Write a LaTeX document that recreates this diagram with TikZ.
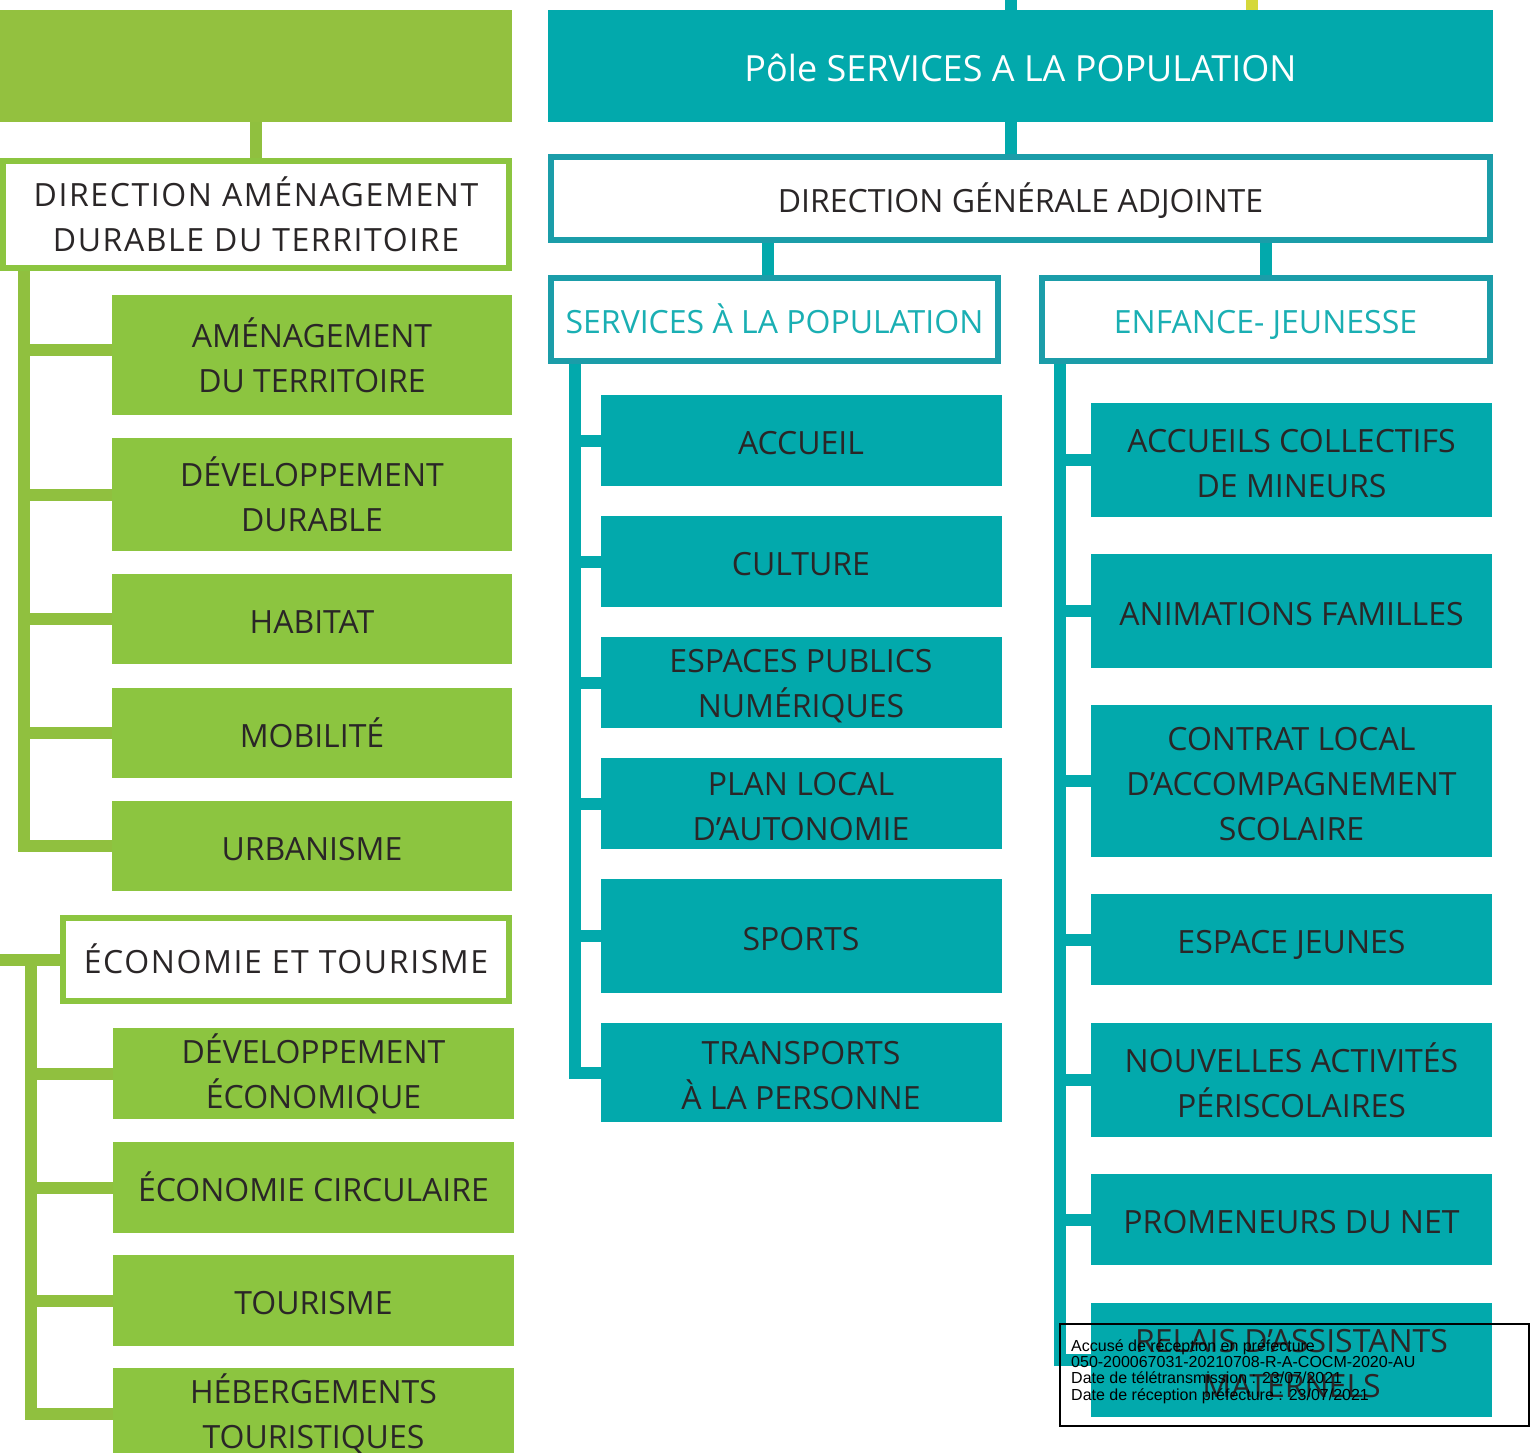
\documentclass[tikz,border=0pt]{standalone}
\usepackage{fontspec}
\setmainfont{Open Sans}
\newfontfamily\trackfont[LetterSpace=5]{Open Sans}
\newfontfamily\stampfont{Liberation Sans}
\usetikzlibrary{backgrounds}
\definecolor{gItem}{HTML}{8CC540}
\definecolor{gTop}{HTML}{93C13F}
\definecolor{gLine}{HTML}{90C03F}
\definecolor{tFill}{HTML}{02A9AC}
\definecolor{tEdge}{HTML}{1B9DA9}
\definecolor{tText}{HTML}{1AAFB3}
\definecolor{ink}{HTML}{2A2627}
\definecolor{ystub}{HTML}{D5D83A}
\newcommand\tfix{\vphantom{É}}
\tikzset{
  box/.style={inner sep=0pt, outer sep=0pt, align=center, text=ink,
    font=\fontsize{32pt}{45pt}\selectfont},
  one/.style={text height=28.5pt, text depth=0pt},
  gitem/.style={box, fill=gItem, minimum width=400pt},
  gframe/.style={box, draw=gItem, line width=6pt, fill=white,
    font=\trackfont\fontsize{32pt}{45pt}\selectfont},
  titem/.style={box, fill=tFill, minimum width=401pt},
  tframe/.style={box, one, draw=tEdge, line width=6pt, fill=white},
  gconn/.style={draw=gLine, line width=12pt},
  tconn/.style={draw=tFill, line width=12pt},
  yconn/.style={draw=ystub, line width=12pt},
  stampbox/.style={draw=black, line width=1.2pt, inner sep=0pt, outer sep=0pt},
  stamptext/.style={inner sep=0pt, text=black, anchor=base west,
    font=\stampfont\fontsize{16pt}{16pt}\selectfont}
}
\begin{document}
\begin{tikzpicture}[x=1pt, y=-1pt]
\useasboundingbox (0,0) rectangle (1539,1452);
\clip (0,0) rectangle (1539,1452);

% ---------- green side ----------
\node[box, fill=gTop, minimum width=512pt, minimum height=112pt] (gtop) at (256,66) {};
\node[gframe, minimum width=506pt, minimum height=107pt] (dad) at (256,214.5) {\tfix DIRECTION AMÉNAGEMENT\\DURABLE DU TERRITOIRE};
\node[gitem, minimum height=120pt] (g1) at (312,355) {\tfix AMÉNAGEMENT\\DU TERRITOIRE};
\node[gitem, minimum height=113pt] (g2) at (312,494.5) {\tfix DÉVELOPPEMENT\\DURABLE};
\node[gitem, one, minimum height=90pt] (g3) at (312,619) {HABITAT};
\node[gitem, one, minimum height=90pt] (g4) at (312,733) {MOBILITÉ};
\node[gitem, one, minimum height=90pt] (g5) at (312,846) {URBANISME};

\node[gframe, one, minimum width=446pt, minimum height=83pt] (et) at (286,959.5) {ÉCONOMIE ET TOURISME};
\node[gitem, minimum width=401pt, minimum height=91pt] (e1) at (313.5,1073.5) {\tfix DÉVELOPPEMENT\\ÉCONOMIQUE};
\node[gitem, one, minimum width=401pt, minimum height=91pt] (e2) at (313.5,1187.5) {ÉCONOMIE CIRCULAIRE};
\node[gitem, one, minimum width=401pt, minimum height=91pt] (e3) at (313.5,1300.5) {TOURISME};
\node[gitem, minimum width=401pt, minimum height=91pt] (e4) at (313.5,1413.5) {\tfix HÉBERGEMENTS\\TOURISTIQUES};

% ---------- teal side ----------
\node[box, fill=tFill, minimum width=945pt, minimum height=112pt, text=white,
  text height=30pt, text depth=0pt,
  font=\fontsize{36pt}{40pt}\selectfont] (pole) at (1020.5,66) {Pôle SERVICES A LA POPULATION};
\node[tframe, minimum width=939pt, minimum height=83pt] (dga) at (1020.5,198.5) {DIRECTION GÉNÉRALE ADJOINTE};
\node[tframe, minimum width=447pt, minimum height=83pt, text=tText] (sap) at (774.5,319.5) {SERVICES À LA POPULATION};
\node[tframe, minimum width=448pt, minimum height=83pt, text=tText] (ej) at (1265.5,319.5) {ENFANCE- JEUNESSE};

\node[titem, one, minimum height=91pt] (s1) at (801,440.5) {ACCUEIL};
\node[titem, one, minimum height=91pt] (s2) at (801,561.5) {CULTURE};
\node[titem, minimum height=91pt] (s3) at (801,682.5) {\tfix ESPACES PUBLICS\\NUMÉRIQUES};
\node[titem, minimum height=91pt] (s4) at (801,803.5) {\tfix PLAN LOCAL\\D’AUTONOMIE};
\node[titem, one, minimum height=114pt] (s5) at (801,936) {SPORTS};
\node[titem, minimum height=99pt] (s6) at (801,1072.5) {\tfix TRANSPORTS\\À LA PERSONNE};

\node[titem, minimum height=114pt] (j1) at (1291.5,460) {\tfix ACCUEILS COLLECTIFS\\DE MINEURS};
\node[titem, one, minimum height=114pt] (j2) at (1291.5,611) {ANIMATIONS FAMILLES};
\node[titem, minimum height=152pt] (j3) at (1291.5,781) {\tfix CONTRAT LOCAL\\D’ACCOMPAGNEMENT\\SCOLAIRE};
\node[titem, one, minimum height=91pt] (j4) at (1291.5,939.5) {ESPACE JEUNES};
\node[titem, minimum height=114pt] (j5) at (1291.5,1080) {\tfix NOUVELLES ACTIVITÉS\\PÉRISCOLAIRES};
\node[titem, one, minimum height=91pt] (j6) at (1291.5,1219.5) {PROMENEURS DU NET};
\node[titem, minimum height=114pt] (j7) at (1291.5,1360) {\tfix RELAIS D'ASSISTANTS\\MATERNELS};

% ---------- stamp ----------
\node[stampbox, minimum width=469pt, minimum height=102pt] (stamp) at (1294.5,1375) {};
\node[stamptext] (stamptxt) at (1071,1351) {\begin{tabular}[t]{@{}l@{}}Accusé de réception en préfecture\\050-200067031-20210708-R-A-COCM-2020-AU\\Date de télétransmission : 23/07/2021\\Date de réception préfecture : 23/07/2021\end{tabular}};

% ---------- connectors ----------
\coordinate (gbar) at (23.5,0);
\coordinate (etl) at (0,0);
\coordinate (ebar) at (31,0);
\coordinate (pbar) at (1010.5,0);
\coordinate (ybar) at (1251.5,0);
\coordinate (sapx) at (768,0);
\coordinate (sbar) at (575,0);
\coordinate (jbar) at (1059.5,0);
\begin{scope}[on background layer]
\fill[white] (0,0) rectangle (1539,1452);
\draw[gconn] (gtop.south) -- (dad.north);
\draw[gconn] (dad.south -| gbar) |- (g5.west);
\draw[gconn] ([yshift=5pt]g1.west -| gbar) -- ([yshift=5pt]g1.west);
\foreach \n in {g2,g3,g4} \draw[gconn] (\n.west -| gbar) -- (\n.west);
\draw[gconn] (et.west -| etl) -- (et.west);
\draw[gconn] (et.west -| ebar) |- (e4.west);
\foreach \n in {e1,e2,e3} \draw[gconn] (\n.west -| ebar) -- (\n.west);

\draw[tconn] (pbar) -- (pbar |- pole.north);
\draw[yconn] (ybar) -- (ybar |- pole.north);
\draw[tconn] (pole.south -| pbar) -- (dga.north -| pbar);
\draw[tconn] (dga.south -| sapx) -- (sap.north -| sapx);
\draw[tconn] (dga.south -| ej) -- (ej.north);
\draw[tconn] (sap.south -| sbar) |- (s6.west);
\foreach \n in {s1,s2,s3,s4,s5} \draw[tconn] (\n.west -| sbar) -- (\n.west);
\draw[tconn] (ej.south -| jbar) |- (j7.west);
\foreach \n in {j1,j2,j3,j4,j5,j6} \draw[tconn] (\n.west -| jbar) -- (\n.west);
\end{scope}
\end{tikzpicture}
\end{document}
